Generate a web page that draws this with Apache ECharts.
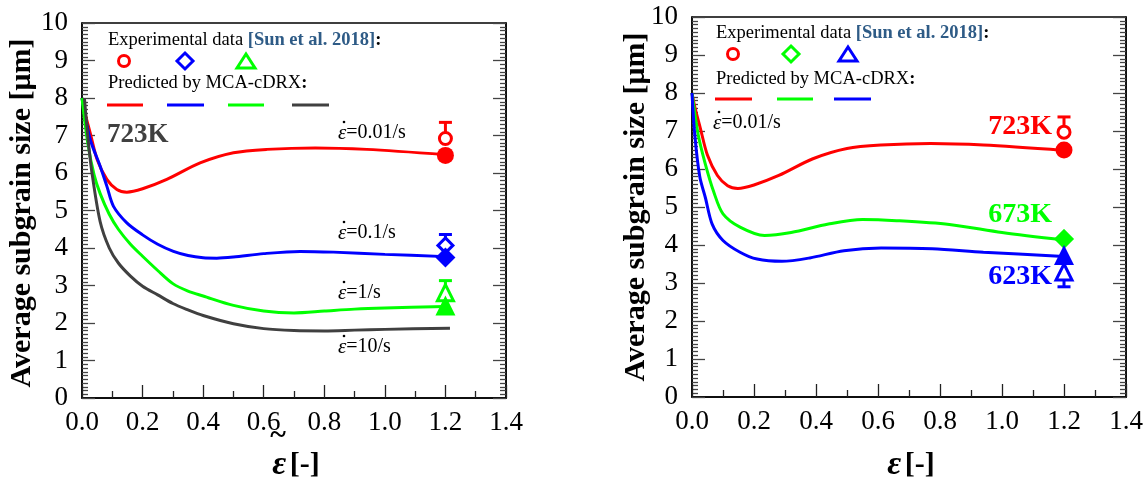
<!DOCTYPE html>
<html><head><meta charset="utf-8">
<script src="https://cdn.jsdelivr.net/npm/echarts@6/dist/echarts.min.js"></script>
<style>html,body{margin:0;padding:0;background:#fff}#c{width:1147px;height:479px}</style>
</head><body><div id="c"></div>
<script>
// ---------- data ----------
// Left panel: 723K, different strain rates
const eps723_001 = [0, 0.01, 0.027, 0.05, 0.082, 0.115, 0.148, 0.2, 0.28, 0.39, 0.5, 0.61, 0.77, 0.94, 1.2];
const d723_001   = [8.0, 7.6, 7.07, 6.36, 5.83, 5.56, 5.49, 5.58, 5.83, 6.27, 6.54, 6.63, 6.67, 6.63, 6.49];
const eps723_01  = [0, 0.027, 0.06, 0.082, 0.104, 0.148, 0.2, 0.25, 0.302, 0.35, 0.4, 0.445, 0.5, 0.6, 0.72, 0.83, 1.0, 1.2];
const d723_01    = [8.0, 6.9, 6.18, 5.65, 5.11, 4.67, 4.35, 4.1, 3.91, 3.8, 3.74, 3.73, 3.76, 3.85, 3.91, 3.89, 3.83, 3.77];
const eps723_1   = [0, 0.02, 0.04, 0.06, 0.09, 0.12, 0.16, 0.2, 0.25, 0.3, 0.35, 0.4, 0.5, 0.6, 0.7, 0.8, 0.9, 1.0, 1.2];
const d723_1     = [8.0, 6.75, 5.95, 5.45, 4.9, 4.5, 4.1, 3.78, 3.4, 3.05, 2.85, 2.72, 2.47, 2.32, 2.27, 2.32, 2.37, 2.4, 2.44];
const eps723_10  = [0.008, 0.02, 0.033, 0.06, 0.09, 0.12, 0.16, 0.2, 0.25, 0.3, 0.35, 0.4, 0.5, 0.6, 0.7, 0.8, 0.9, 1.0, 1.215];
const d723_10    = [8.0, 6.9, 6.0, 4.7, 4.0, 3.6, 3.25, 2.98, 2.75, 2.52, 2.35, 2.2, 1.98, 1.85, 1.8, 1.79, 1.81, 1.83, 1.86];
// Right panel: 0.01/s, different temperatures (723K curve is the same as left)
const eps673 = [0, 0.02, 0.043, 0.07, 0.1, 0.155, 0.234, 0.32, 0.44, 0.55, 0.66, 0.83, 1.0, 1.2];
const d673   = [8.0, 6.9, 6.13, 5.4, 4.82, 4.47, 4.25, 4.33, 4.55, 4.67, 4.64, 4.54, 4.33, 4.13];
const eps623 = [0, 0.009, 0.025, 0.043, 0.065, 0.1, 0.155, 0.21, 0.29, 0.38, 0.49, 0.61, 0.775, 0.94, 1.2];
const d623   = [8.0, 6.9, 5.8, 5.25, 4.55, 4.12, 3.81, 3.63, 3.57, 3.66, 3.85, 3.92, 3.9, 3.81, 3.7];
// Experimental (open) and predicted end (filled) points at strain 1.2
const expStrain = 1.2;
const leftExp     = [6.92, 4.07, 2.81];   // 0.01, 0.1, 1 /s
const leftExpErr  = [7.35, 4.36, 3.13];
const leftPred    = [6.47, 3.75, 2.47];
const rightExp    = [6.97, 4.16, 3.29];   // 723K, 673K, 623K
const rightExpErr = [7.37, null, 2.90];
const rightPred   = [6.50, 4.16, 3.74];
const xTickLabels = ['0.0','0.2','0.4','0.6','0.8','1.0','1.2','1.4'];

// ---------- styling ----------
const RED = '#ff0000', BLUE = '#0000ff', GREEN = '#00ff00', DARK = '#404040';
const SERIF = 'Liberation Serif, Times New Roman, DejaVu Serif, serif';
const zip = (xs, ys) => xs.map((x, i) => [x, ys[i]]);

function yAx(gi, pos, labels) {
  return {
    type: 'value', gridIndex: gi, position: pos, min: 0, max: 10, interval: 1,
    axisLine: { show: true, onZero: false, lineStyle: { color: '#000', width: 1.5 } },
    axisTick: { show: true, inside: true, length: 13, lineStyle: { color: '#444', width: 1.3 } },
    minorTick: { show: true, splitNumber: 10, length: 6, lineStyle: { color: '#444', width: 1.3 } },
    splitLine: { show: false }, minorSplitLine: { show: false },
    axisLabel: { show: labels, margin: 14, fontFamily: SERIF, fontSize: 27, color: '#000', showMinLabel: true, showMaxLabel: true }
  };
}
function xAx(gi) {
  return {
    type: 'value', gridIndex: gi, position: 'bottom', min: 0, max: 1.4, interval: 0.2,
    axisLine: { show: true, onZero: false, lineStyle: { color: '#000', width: 1.5 } },
    axisTick: { show: true, inside: true, length: 13, lineStyle: { color: '#222', width: 1.3 } },
    minorTick: { show: true, splitNumber: 2, length: 7, lineStyle: { color: '#222', width: 1.3 } },
    splitLine: { show: false },
    axisLabel: { margin: 11, fontFamily: SERIF, fontSize: 27, color: '#000', showMinLabel: true, showMaxLabel: true,
      formatter: v => xTickLabels[Math.round(v / 0.2)] }
  };
}
function curve(xi, yi, xs, ys, color) {
  return { type: 'line', xAxisIndex: xi, yAxisIndex: yi, data: zip(xs, ys), smooth: 0.3, showSymbol: false,
    lineStyle: { color: color, width: 3 }, z: 2, silent: true };
}
function pt(xi, yi, y, symbol, size, color, open, z) {
  return { type: 'scatter', xAxisIndex: xi, yAxisIndex: yi, data: [[expStrain, y]], symbol: symbol, symbolSize: size,
    itemStyle: open ? { color: '#fff', borderColor: color, borderWidth: 3, opacity: 1 } : { color: color, opacity: 1 }, z: z, silent: true };
}
function errBars(xi, yi, centers, ends, colors) {
  const data = [];
  centers.forEach((c, i) => { if (ends[i] != null) data.push([expStrain, c, ends[i], i]); });
  return { type: 'custom', xAxisIndex: xi, yAxisIndex: yi, data: data, encode: { x: 0, y: [1, 2] }, z: 3, silent: true,
    renderItem: (params, api) => {
      const p1 = api.coord([api.value(0), api.value(1)]);
      const p2 = api.coord([api.value(0), api.value(2)]);
      const col = colors[api.value(3)];
      return { type: 'group', children: [
        { type: 'line', shape: { x1: p1[0], y1: p1[1], x2: p2[0], y2: p2[1] }, style: { stroke: col, lineWidth: 3 } },
        { type: 'line', shape: { x1: p2[0] - 6.5, y1: p2[1], x2: p2[0] + 6.5, y2: p2[1] }, style: { stroke: col, lineWidth: 3 } }
      ] };
    } };
}

// ---------- graphic helpers ----------
function txt(x, y, text, extra) {
  return { type: 'text', x: x, y: y, silent: true, z: 10,
    style: Object.assign({ text: text, fontFamily: SERIF, fontSize: 18, fill: '#000', align: 'left', verticalAlign: 'middle' }, extra || {}) };
}
function richTxt(x, y, text, rich, extra) {
  return { type: 'text', x: x, y: y, silent: true, z: 10,
    style: Object.assign({ text: text, rich: rich, fontFamily: SERIF, fontSize: 18, fill: '#000', align: 'left', verticalAlign: 'middle' }, extra || {}) };
}
function legCircle(cx, cy, col) { return { type: 'circle', shape: { cx: cx, cy: cy, r: 5.5 }, style: { fill: '#fff', stroke: col, lineWidth: 3 }, z: 10 }; }
function legDiamond(cx, cy, col) { return { type: 'polygon', shape: { points: [[cx, cy - 8], [cx + 8, cy], [cx, cy + 8], [cx - 8, cy]] }, style: { fill: '#fff', stroke: col, lineWidth: 3 }, z: 10 }; }
function legTriangle(cx, cy, col) { return { type: 'polygon', shape: { points: [[cx, cy - 8], [cx + 9, cy + 6], [cx - 9, cy + 6]] }, style: { fill: '#fff', stroke: col, lineWidth: 3 }, z: 10 }; }
function legLine(x1, x2, y, col) { return { type: 'line', shape: { x1: x1, y1: y, x2: x2, y2: y }, style: { stroke: col, lineWidth: 3 }, z: 10 }; }

const richExp = {
  a: { fontFamily: SERIF, fontSize: 18.5, fill: '#000' },
  b: { fontFamily: SERIF, fontSize: 18.5, fontWeight: 'bold', fill: '#2e5b86' },
  c: { fontFamily: SERIF, fontSize: 18.5, fontWeight: 'bold', fill: '#000' }
};
const richRate = {
  e: { fontFamily: SERIF, fontSize: 21, fontStyle: 'italic', fill: '#000' },
  t: { fontFamily: SERIF, fontSize: 20, fill: '#000' }
};
const richX = {
  e: { fontFamily: SERIF, fontSize: 34, fontStyle: 'italic', fontWeight: 'bold', fill: '#000' },
  s: { fontFamily: SERIF, fontSize: 14, fill: '#000' },
  b: { fontFamily: SERIF, fontSize: 30, fontWeight: 'bold', fill: '#000' }
};
// strain-rate label: italic epsilon with a dot above, then the value
function rateLabel(x, y, s) {
  return [
    richTxt(x, y, '{e|ε}{t|=' + s + '}', richRate),
    { type: 'circle', shape: { cx: x + 6, cy: y - 11, r: 1.3 }, style: { fill: '#000' }, z: 10, silent: true }
  ];
}
const yTitleStyle = { text: 'Average subgrain size [μm]', fontFamily: SERIF, fontSize: 30, fontWeight: 'bold', fill: '#000', align: 'center', verticalAlign: 'middle' };

const graphics = [
  // left panel legend
  richTxt(108, 40, '{a|Experimental data }{b|[Sun et al. 2018]}{c|:}', richExp),
  legCircle(124, 61, RED), legDiamond(185, 61, BLUE), legTriangle(246, 62, GREEN),
  richTxt(108, 83, '{a|Predicted by MCA-cDRX}{c|:}', richExp),
  legLine(107, 143, 105, RED), legLine(167, 204, 105, BLUE), legLine(228, 264, 105, GREEN), legLine(292, 329, 105, DARK),
  txt(107, 135, '723K', { fontSize: 27, fontWeight: 'bold', fill: DARK }),
  ...rateLabel(338, 133, '0.01/s'),
  ...rateLabel(338, 233, '0.1/s'),
  ...rateLabel(338, 293, '1/s'),
  ...rateLabel(338, 347, '10/s'),
  // right panel legend
  richTxt(716, 33, '{a|Experimental data }{b|[Sun et al. 2018]}{c|:}', richExp),
  legCircle(733, 54, RED), legDiamond(791, 54, GREEN), legTriangle(848, 55, BLUE),
  richTxt(716, 79, '{a|Predicted by MCA-cDRX}{c|:}', richExp),
  legLine(715, 752, 99, RED), legLine(777, 813, 99, GREEN), legLine(834, 871, 99, BLUE),
  ...rateLabel(713, 123, '0.01/s'),
  txt(1052, 127, '723K', { fontSize: 28, fontWeight: 'bold', fill: RED, align: 'right' }),
  txt(1052, 215, '673K', { fontSize: 28, fontWeight: 'bold', fill: GREEN, align: 'right' }),
  txt(1052, 277, '623K', { fontSize: 28, fontWeight: 'bold', fill: BLUE, align: 'right' }),
  // axis titles
  { type: 'text', x: 22, y: 213, rotation: Math.PI / 2, silent: true, z: 10, style: yTitleStyle },
  { type: 'text', x: 636, y: 207, rotation: Math.PI / 2, silent: true, z: 10, style: yTitleStyle },
  richTxt(296, 465, '{e|ε}{s| }{b|[-]}', richX, { align: 'center' }),
  richTxt(911, 465, '{e|ε}{s| }{b|[-]}', richX, { align: 'center' }),
  txt(278, 436, '~', { fontSize: 30, fontWeight: 'bold', align: 'center' })
];

const option = {
  animation: false,
  backgroundColor: '#fff',
  grid: [
    { left: 82, top: 23, width: 424, height: 375, show: true, borderColor: '#000', borderWidth: 1.5, backgroundColor: 'transparent' },
    { left: 692, top: 17, width: 434, height: 380, show: true, borderColor: '#000', borderWidth: 1.5, backgroundColor: 'transparent' }
  ],
  xAxis: [xAx(0), xAx(1)],
  yAxis: [yAx(0, 'left', true), yAx(0, 'right', false), yAx(1, 'left', true), yAx(1, 'right', false)],
  series: [
    // left panel curves
    curve(0, 0, eps723_001, d723_001, RED),
    curve(0, 0, eps723_01, d723_01, BLUE),
    curve(0, 0, eps723_1, d723_1, GREEN),
    curve(0, 0, eps723_10, d723_10, DARK),
    errBars(0, 0, leftExp, leftExpErr, [RED, BLUE, GREEN]),
    pt(0, 0, leftExp[0], 'circle', 12, RED, true, 4),
    pt(0, 0, leftExp[1], 'diamond', 15, BLUE, true, 4),
    pt(0, 0, leftExp[2], 'triangle', 16, GREEN, true, 4),
    pt(0, 0, leftPred[0], 'circle', 17, RED, false, 5),
    pt(0, 0, leftPred[1], 'diamond', 20, BLUE, false, 5),
    pt(0, 0, leftPred[2], 'triangle', 20, GREEN, false, 5),
    // right panel curves
    curve(1, 2, eps723_001, d723_001, RED),
    curve(1, 2, eps673, d673, GREEN),
    curve(1, 2, eps623, d623, BLUE),
    errBars(1, 2, rightExp, rightExpErr, [RED, GREEN, BLUE]),
    pt(1, 2, rightExp[0], 'circle', 12, RED, true, 4),
    pt(1, 2, rightExp[1], 'diamond', 15, GREEN, true, 4),
    pt(1, 2, rightExp[2], 'triangle', 16, BLUE, true, 4),
    pt(1, 2, rightPred[0], 'circle', 17, RED, false, 5),
    pt(1, 2, rightPred[1], 'diamond', 20, GREEN, false, 5),
    pt(1, 2, rightPred[2], 'triangle', 20, BLUE, false, 5)
  ],
  graphic: graphics
};
const chart = echarts.init(document.getElementById('c'), null, { renderer: 'canvas' });
chart.setOption(option);
</script>
</body></html>
